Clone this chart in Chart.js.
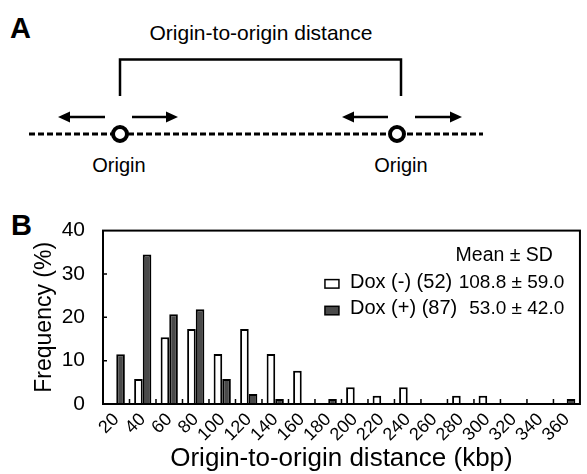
<!DOCTYPE html>
<html><head><meta charset="utf-8">
<script src="https://cdn.jsdelivr.net/npm/chart.js@4.4.1/dist/chart.umd.min.js"></script>
<style>
html,body{margin:0;padding:0;background:#fff;}
body{width:587px;height:474px;position:relative;overflow:hidden;font-family:"Liberation Sans",Arial,sans-serif;}
#diagram{position:absolute;left:0;top:0;}
#wrap{position:absolute;left:0;top:200px;width:587px;height:274px;}
</style></head><body>
<svg id="diagram" width="587" height="474" xmlns="http://www.w3.org/2000/svg" font-family="Liberation Sans, Arial, sans-serif">
  <text x="10" y="38" font-size="29" font-weight="bold">A</text>
  <text x="11" y="235" font-size="29" font-weight="bold">B</text>
  <text x="261" y="40" font-size="21" text-anchor="middle">Origin-to-origin distance</text>
  <polyline points="120,96 120,59.5 401,59.5 401,96" fill="none" stroke="#000" stroke-width="2.5"/>
  <line x1="29" y1="134" x2="483" y2="134" stroke="#000" stroke-width="3" stroke-dasharray="6,3"/>
  <circle cx="120" cy="134" r="7" fill="#fff" stroke="#000" stroke-width="4"/>
  <circle cx="397" cy="134" r="7" fill="#fff" stroke="#000" stroke-width="4"/>
  <line x1="105" y1="117" x2="68" y2="117" stroke="#000" stroke-width="2.5"/>
  <polygon points="58,117 70,111.5 70,122.5" fill="#000"/>
  <line x1="132" y1="117" x2="168" y2="117" stroke="#000" stroke-width="2.5"/>
  <polygon points="178,117 166,111.5 166,122.5" fill="#000"/>
  <line x1="388" y1="117" x2="352" y2="117" stroke="#000" stroke-width="2.5"/>
  <polygon points="342,117 354,111.5 354,122.5" fill="#000"/>
  <line x1="415" y1="117" x2="451" y2="117" stroke="#000" stroke-width="2.5"/>
  <polygon points="462,117 450,111.5 450,122.5" fill="#000"/>
  <text x="119" y="172" font-size="20" text-anchor="middle">Origin</text>
  <text x="401" y="172" font-size="20" text-anchor="middle">Origin</text>
</svg>
<div id="wrap"><canvas id="c" width="587" height="274"></canvas></div>
<script>
const categories = ['20','40','60','80','100','120','140','160','180','200','220','240','260','280','300','320','340','360'];
const doxMinus = [0, 5.77, 15.38, 17.31, 11.54, 17.31, 11.54, 7.69, 0, 3.85, 1.92, 3.85, 0, 1.92, 1.92, 0, 0, 0];
const doxPlus  = [11.49, 34.48, 20.69, 21.84, 5.75, 2.30, 1.15, 0, 1.15, 0, 0, 0, 0, 0, 0, 0, 0, 1.15];
const yTickValues = [0, 10, 20, 30, 40];
const seriesLabels = ['Dox (-) (52)', 'Dox (+) (87)'];
const seriesStats = ['108.8 \u00B1 59.0', '53.0 \u00B1 42.0'];
const legendTitle = 'Mean \u00B1 SD';
const xTitle = 'Origin-to-origin distance (kbp)';
const yTitle = 'Frequency (%)';

const FONT = '"Liberation Sans", Arial, sans-serif';

const framePlugin = {
  id: 'frame',
  afterDatasetsDraw(chart) {
    const {ctx, chartArea: a, scales: {x, y}} = chart;
    ctx.save();
    ctx.strokeStyle = '#000';
    ctx.lineWidth = 1.5;
    ctx.beginPath();
    for (let i = 0; i < categories.length - 1; i++) {
      const bx = (x.getPixelForValue(i) + x.getPixelForValue(i + 1)) / 2;
      ctx.moveTo(bx, a.bottom);
      ctx.lineTo(bx, a.bottom - 5);
    }
    yTickValues.forEach(v => {
      if (v === 0 || v === 40) return;
      const py = y.getPixelForValue(v);
      ctx.moveTo(a.left, py);
      ctx.lineTo(a.left + 4, py);
    });
    ctx.stroke();
    ctx.lineWidth = 2;
    ctx.strokeRect(a.left, a.top, a.right - a.left, a.bottom - a.top);
    ctx.fillStyle = '#000';
    ctx.font = '19.5px ' + FONT;
    ctx.textBaseline = 'alphabetic';
    ctx.textAlign = 'right';
    ctx.fillText(legendTitle, a.right - 27, a.top + 30.5);
    const rowBase = [a.top + 57, a.top + 83.7];
    chart.data.datasets.forEach((ds, i) => {
      ctx.fillStyle = ds.backgroundColor;
      ctx.fillRect(a.right - 255, rowBase[i] - 8, 14, 8.5);
      ctx.lineWidth = 1.5;
      ctx.strokeStyle = '#000';
      ctx.strokeRect(a.right - 255, rowBase[i] - 8, 14, 8.5);
      ctx.fillStyle = '#000';
      ctx.font = '20px ' + FONT;
      ctx.textAlign = 'left';
      ctx.fillText(seriesLabels[i], a.right - 230, rowBase[i]);
      ctx.font = '19px ' + FONT;
      ctx.textAlign = 'right';
      ctx.fillText(seriesStats[i], a.right - 15.7, rowBase[i]);
    });
    ctx.restore();
  }
};

new Chart(document.getElementById('c'), {
  type: 'bar',
  data: {
    labels: categories,
    datasets: [
      { label: seriesLabels[0], data: doxMinus, backgroundColor: '#ffffff', borderColor: '#000000', borderWidth: 2, borderSkipped: 'start' },
      { label: seriesLabels[1], data: doxPlus, backgroundColor: '#4a4a4a', borderColor: '#000000', borderWidth: 2, borderSkipped: 'start' }
    ]
  },
  options: {
    responsive: false,
    devicePixelRatio: 1,
    animation: false,
    events: [],
    datasets: { bar: { categoryPercentage: 0.65, barPercentage: 1.0 } },
    layout: { padding: { left: 27, right: 1, top: 22, bottom: 0 } },
    plugins: { legend: { display: false }, tooltip: { enabled: false } },
    scales: {
      x: {
        grid: { display: false, drawTicks: false },
        border: { display: false },
        ticks: { autoSkip: false, maxRotation: 45, minRotation: 45, padding: 5, color: '#000', font: { family: FONT, size: 18 } },
        title: { display: true, text: xTitle, color: '#000', font: { family: FONT, size: 26 }, padding: { top: 0, bottom: 0 } },
        afterFit(scale) { scale.height = 70; }
      },
      y: {
        min: 0, max: 40,
        afterBuildTicks(scale) { scale.ticks = yTickValues.map(v => ({ value: v })); },
        grid: { display: false, drawTicks: false },
        border: { display: false },
        ticks: { padding: 18, color: '#000', font: { family: FONT, size: 21 } },
        title: { display: true, text: yTitle, color: '#000', font: { family: FONT, size: 23 }, padding: { top: 4, bottom: 0 } },
        afterFit(scale) { scale.width = 76; }
      }
    }
  },
  plugins: [framePlugin]
});
</script>
</body></html>
